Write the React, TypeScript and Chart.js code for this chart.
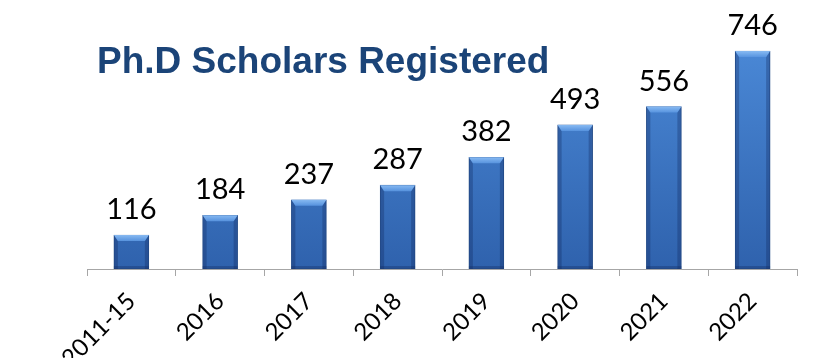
import React, { useEffect, useRef } from "react";
import { Chart, registerables } from "chart.js";

Chart.register(...registerables);

const categories = ["2011-15", "2016", "2017", "2018", "2019", "2020", "2021", "2022"];
const scholars = [116, 184, 237, 287, 382, 493, 556, 746];
const titleText = "Ph.D Scholars Registered";

const titlePlugin = {
  id: "insideTitle",
  afterDraw(chart: any) {
    const ctx = chart.ctx;
    ctx.save();
    ctx.font = "bold 37px 'Liberation Sans', Arial, sans-serif";
    ctx.fillStyle = "#1b4478";
    ctx.textAlign = "left";
    ctx.textBaseline = "alphabetic";
    ctx.fillText(titleText, 97, 73);
    ctx.restore();
  },
};

const barShadePlugin = {
  id: "barShade",
  afterDatasetsDraw(chart: any) {
    const ctx = chart.ctx;
    const meta = chart.getDatasetMeta(0);
    ctx.save();
    meta.data.forEach((bar: any) => {
      const { x, y, base, width } = bar.getProps(["x", "y", "base", "width"], true);
      const l = x - width / 2;
      const r = x + width / 2;
      const b = 6;
      ctx.fillStyle = "rgba(10,30,80,0.28)";
      ctx.beginPath();
      ctx.moveTo(l, y);
      ctx.lineTo(l + 4, y + b);
      ctx.lineTo(l + 4, base);
      ctx.lineTo(l, base);
      ctx.closePath();
      ctx.fill();
      ctx.beginPath();
      ctx.moveTo(r, y);
      ctx.lineTo(r - 4, y + b);
      ctx.lineTo(r - 4, base);
      ctx.lineTo(r, base);
      ctx.closePath();
      ctx.fill();
      const g = ctx.createLinearGradient(0, y, 0, y + b);
      g.addColorStop(0, "rgba(140,190,245,0.95)");
      g.addColorStop(1, "rgba(90,150,225,0.9)");
      ctx.fillStyle = g;
      ctx.beginPath();
      ctx.moveTo(l, y);
      ctx.lineTo(r, y);
      ctx.lineTo(r - 4, y + b);
      ctx.lineTo(l + 4, y + b);
      ctx.closePath();
      ctx.fill();
      ctx.fillStyle = "rgba(20,45,100,0.35)";
      ctx.fillRect(l, base - 3, width, 3);
    });
    ctx.restore();
  },
};

const valueLabelPlugin = {
  id: "valueLabels",
  afterDatasetsDraw(chart: any) {
    const ctx = chart.ctx;
    const meta = chart.getDatasetMeta(0);
    const data = chart.data.datasets[0].data;
    ctx.save();
    ctx.font = "29px Lato, 'Open Sans', sans-serif";
    ctx.fillStyle = "#000000";
    ctx.textAlign = "center";
    ctx.textBaseline = "alphabetic";
    meta.data.forEach((bar: any, i: number) => {
      ctx.fillText(String(data[i]), bar.x, bar.y - 16);
    });
    ctx.restore();
  },
};

export default function App() {
  const canvasRef = useRef<HTMLCanvasElement | null>(null);

  useEffect(() => {
    if (!canvasRef.current) return;
    const chart = new Chart(canvasRef.current, {
      type: "bar",
      data: {
        labels: categories,
        datasets: [
          {
            data: scholars,
            backgroundColor: (c: any) => {
              const area = c.chart.chartArea;
              if (!area) return "#3a72c2";
              const g = c.chart.ctx.createLinearGradient(0, area.top + 40, 0, area.bottom);
              g.addColorStop(0, "#4a88d6");
              g.addColorStop(1, "#2f62ad");
              return g;
            },
            borderColor: "#2a5696",
            borderWidth: 1,
            borderSkipped: false,
            barThickness: 35,
          },
        ],
      },
      options: {
        animation: false,
        responsive: true,
        maintainAspectRatio: false,
        layout: { padding: { top: 6, left: 87, right: 32, bottom: 0 } },
        plugins: {
          legend: { display: false },
          title: { display: false },
          tooltip: { enabled: false },
        },
        scales: {
          y: { display: false, min: 0, max: 900 },
          x: {
            offset: true,
            grid: {
              display: true,
              drawOnChartArea: false,
              drawTicks: true,
              tickLength: 7,
              color: "#a6a6a6",
              offset: true,
            },
            border: { display: true, color: "#a6a6a6", width: 1 },
            ticks: {
              color: "#000000",
              font: { family: "Lato, 'Open Sans', sans-serif", size: 24 },
              minRotation: 45,
              maxRotation: 45,
              padding: 11,
              autoSkip: false,
            },
            afterFit: (scale: any) => {
              scale.height = 89;
            },
          },
        },
      },
      plugins: [barShadePlugin, valueLabelPlugin, titlePlugin],
    });
    return () => chart.destroy();
  }, []);

  return (
    <div style={{ position: "fixed", left: 0, top: 0, width: 829, height: 358, background: "#ffffff" }}>
      <canvas ref={canvasRef} />
    </div>
  );
}
